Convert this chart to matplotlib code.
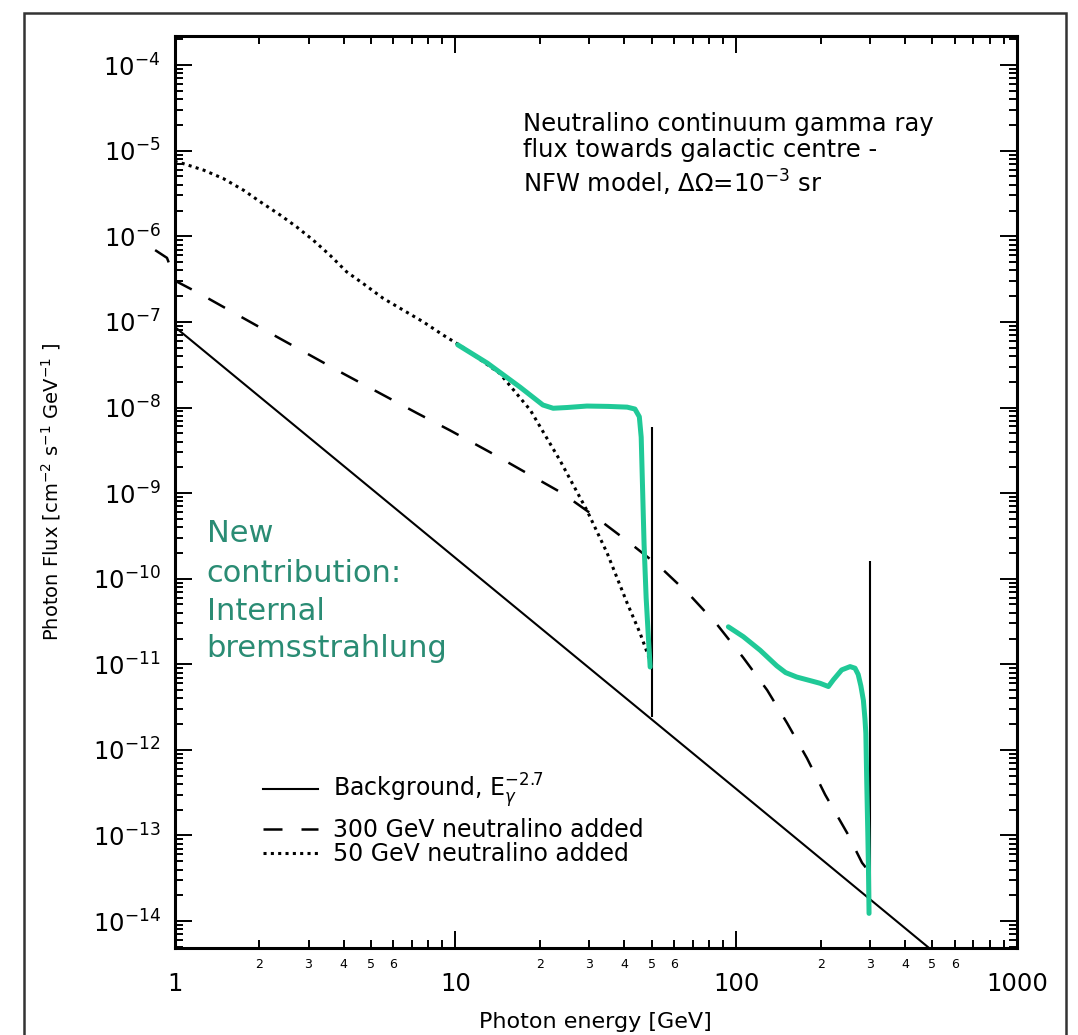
import numpy as np
import matplotlib
matplotlib.use("Agg")
import matplotlib.pyplot as plt
from matplotlib.legend import Legend
from matplotlib.ticker import LogLocator, FixedLocator, FuncFormatter, NullFormatter
from matplotlib.patches import Rectangle

# background power law, E^-2.7
bg_e = [1, 10, 100, 500]
bg_flux = [8.8e-8, 1.75e-10, 3.5e-13, 4.5e-15]

# 300 GeV neutralino added (dashed)
n300_e = [0.853, 0.94, 1.01, 1.21, 2.19, 3.98, 7.3, 9.58, 13.3, 17.7, 24, 31,
          41.9, 53.6, 68.5, 85.6, 105.9, 128.9, 151.8, 178.7, 207.4, 248.4,
          280.7, 297]
n300_flux = [6.9e-7, 5.6e-7, 3.0e-7, 2.2e-7, 7.4e-8, 2.5e-8, 8.6e-9, 5.4e-9,
             3.0e-9, 1.76e-9, 1.0e-9, 5.5e-10, 2.6e-10, 1.37e-10, 6.4e-11,
             2.9e-11, 1.2e-11, 5.0e-12, 2.06e-12, 8.0e-13, 3.0e-13, 1.07e-13,
             4.8e-14, 3.8e-14]

# 50 GeV neutralino added (dotted)
n50_e = [1.0, 1.07, 1.27, 1.49, 1.76, 2.02, 2.38, 2.72, 3.12, 3.58, 4.1, 4.7,
         5.54, 6.53, 7.69, 9.06, 10.4, 14.4, 18.5, 23.6, 29.4, 34.7, 40.9,
         45.5, 49.4]
n50_flux = [7.5e-6, 7.1e-6, 5.93e-6, 4.74e-6, 3.46e-6, 2.53e-6, 1.77e-6,
            1.29e-6, 9.0e-7, 6.0e-7, 3.85e-7, 2.8e-7, 1.88e-7, 1.37e-7, 1.0e-7,
            7.0e-8, 5.3e-8, 2.5e-8, 9.3e-9, 2.4e-9, 6.3e-10, 2.0e-10, 5.2e-11,
            2.3e-11, 1.1e-11]

# internal bremsstrahlung, 50 GeV
ib50_e = [10.2, 13.0, 17.0, 20.5, 22.3, 25.0, 29.4, 35.0, 40.9, 43.6, 45.2,
          45.9, 46.4, 47.0, 47.8, 48.8, 49.4]
ib50_flux = [5.4e-8, 3.3e-8, 1.73e-8, 1.07e-8, 9.8e-9, 1.0e-8, 1.04e-8,
             1.03e-8, 1.01e-8, 9.6e-9, 7.8e-9, 4.5e-9, 1.2e-9, 2.5e-10,
             6.0e-11, 1.8e-11, 9.3e-12]

# internal bremsstrahlung, 300 GeV
ib300_e = [93.8, 106.1, 121.7, 139.5, 150.0, 164.3, 185.0, 199, 213, 222,
           237.6, 254.5, 265.0, 272.0, 278.0, 283.8, 287.5, 289.6, 291.8,
           294.3, 295.8, 297.3]
ib300_flux = [2.74e-11, 2.1e-11, 1.46e-11, 9.6e-12, 8.0e-12, 7.1e-12, 6.4e-12,
              6.0e-12, 5.5e-12, 6.6e-12, 8.6e-12, 9.4e-12, 9.0e-12, 7.6e-12,
              5.6e-12, 3.8e-12, 2.3e-12, 1.56e-12, 4.1e-13, 1.06e-13, 4.3e-14,
              1.23e-14]

# gamma-ray lines
line_e = [50, 300]
line_lo = [2.4e-12, 1.7e-14]
line_hi = [5.9e-9, 1.6e-10]

x_major = [1, 10, 100, 1000]
x_minor_shown = [2, 3, 4, 5, 6]
y_major = [10.0 ** k for k in range(-14, -3)]

green = '#20c997'
teal_text = '#2a8c74'

fig = plt.figure(figsize=(10.78, 10.35), dpi=100)
ax = fig.add_axes([0.1619, 0.0836, 0.7815, 0.8816])

h_bg, = ax.plot(bg_e, bg_flux, color='black', lw=1.5,
                label=r'Background, E$_\gamma^{-2.7}$')
h300, = ax.plot(n300_e, n300_flux, color='black', lw=1.8,
                linestyle=(0, (7.6, 7.6)), clip_on=False,
                label='300 GeV neutralino added')
h50, = ax.plot(n50_e, n50_flux, color='black', lw=2.2,
               linestyle=(0, (1, 1.4)), label='50 GeV neutralino added')
ax.vlines(line_e, line_lo, line_hi, color='black', lw=1.5, zorder=2.5)
ax.plot(ib50_e, ib50_flux, color=green, lw=3.6, solid_capstyle='round',
        solid_joinstyle='round', zorder=3)
ax.plot(ib300_e, ib300_flux, color=green, lw=3.6, solid_capstyle='round',
        solid_joinstyle='round', zorder=3)

ax.set_xscale('log')
ax.set_yscale('log')
ax.set_xlim(1, 1000)
ax.set_ylim(10 ** -14.32, 10 ** -3.66)

ax.xaxis.set_major_locator(FixedLocator(x_major))
ax.xaxis.set_major_formatter(FuncFormatter(lambda v, p: f'{v:g}'))
ax.xaxis.set_minor_locator(LogLocator(base=10, subs=np.arange(2, 10), numticks=20))


def minor_label(v, p):
    m = int(round(v / 10 ** np.floor(np.log10(v) + 1e-9)))
    return str(m) if m in x_minor_shown else ''


ax.xaxis.set_minor_formatter(FuncFormatter(minor_label))
ax.yaxis.set_major_locator(FixedLocator(y_major))
ax.yaxis.set_minor_locator(LogLocator(base=10, subs=np.arange(2, 10), numticks=20))
ax.yaxis.set_minor_formatter(NullFormatter())

ax.tick_params(which='both', direction='in', top=True, right=True, width=1.4)
ax.tick_params(which='major', length=12, labelsize=17.5)
ax.tick_params(which='minor', length=6)
ax.tick_params(axis='x', which='major', pad=17)
ax.tick_params(axis='x', which='minor', labelsize=9, pad=7)
ax.tick_params(axis='y', which='major', pad=10)
for s in ax.spines.values():
    s.set_linewidth(2.2)

ax.set_xlabel('Photon energy [GeV]', fontsize=16)
ax.xaxis.label.set_va('center')
ax.xaxis.set_label_coords(0.5, -0.0805)
ax.set_ylabel(r'Photon Flux [cm$^{-2}$ s$^{-1}$ GeV$^{-1}$ ]', fontsize=14)
ax.yaxis.label.set_va('center')
ax.yaxis.set_label_coords(-0.146, 0.5)

# description, top right
ax.text(0.4136, 0.8959, 'Neutralino continuum gamma ray', transform=ax.transAxes,
        fontsize=17.5, va='baseline')
ax.text(0.4136, 0.8677, 'flux towards galactic centre -', transform=ax.transAxes,
        fontsize=17.5, va='baseline')
ax.text(0.4136, 0.828, r'NFW model, $\Delta\Omega$=10$^{-3}$ sr',
        transform=ax.transAxes, fontsize=17.5, va='baseline')

# green note
for txt, yb in zip(['New', 'contribution:', 'Internal', 'bremsstrahlung'],
                   [0.4458, 0.4020, 0.3600, 0.3198]):
    ax.text(0.0382, yb, txt, transform=ax.transAxes, fontsize=22,
            color=teal_text, va='baseline')

# legend, one row per entry so the uneven row spacing can be kept
for h, yrow in zip([h_bg, h300, h50], [0.1726, 0.1294, 0.1036]):
    leg = Legend(ax, [h], [h.get_label()], loc='center left',
                 bbox_to_anchor=(0.105, yrow), frameon=False, fontsize=17,
                 handlelength=2.33, handletextpad=0.64, borderpad=0,
                 borderaxespad=0)
    ax.add_artist(leg)

# outer frame of the slide
fig.add_artist(Rectangle((24 / 1078, -0.01), (1066 - 24) / 1078, 0.9971,
                         transform=fig.transFigure, fill=False, lw=1.8,
                         ec='#333333'))

fig.savefig('out.png', dpi=100)
